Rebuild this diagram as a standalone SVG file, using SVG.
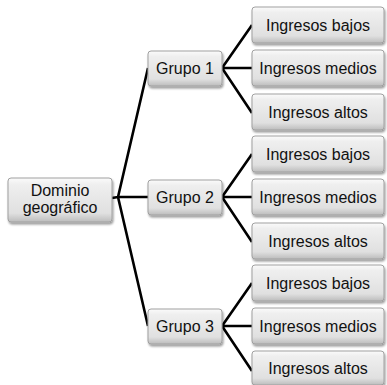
<svg xmlns="http://www.w3.org/2000/svg" width="387" height="385" viewBox="0 0 387 385">
<defs>
<linearGradient id="g" x1="0" y1="0" x2="0" y2="1">
<stop offset="0" stop-color="#fbfbfb"/>
<stop offset="0.15" stop-color="#efefef"/>
<stop offset="0.8" stop-color="#e0e0e0"/>
<stop offset="1" stop-color="#bcbcbc"/>
</linearGradient>
<filter id="sh" x="-10%" y="-10%" width="130%" height="140%">
<feGaussianBlur in="SourceAlpha" stdDeviation="1.2"/>
<feOffset dx="1" dy="2" result="b"/>
<feComponentTransfer><feFuncA type="linear" slope="0.4"/></feComponentTransfer>
<feMerge><feMergeNode/><feMergeNode in="SourceGraphic"/></feMerge>
</filter>
</defs>
<style>
.box{fill:url(#g);stroke:#a0a0a0;stroke-width:1;filter:url(#sh)}
.t{font-family:"Liberation Sans",Arial,sans-serif;font-size:16px;fill:#111111;text-anchor:middle;dominant-baseline:central}
.c{fill:none;stroke:#000;stroke-width:2.6;stroke-linejoin:round}
</style>
<rect width="387" height="385" fill="#ffffff"/>
<g id="connectors">
<path class="c" d="M112 198 L118 197 L148 68 M118 197 L148 197 M118 197 L148 326"/>
<path class="c" d="M252 25 L222 68 L252 68 M222 68 L252 113"/>
<path class="c" d="M252 154 L222 197 L252 197 M222 197 L252 242"/>
<path class="c" d="M252 283 L222 326 L252 326 M222 326 L252 371"/>
</g>
<g id="dominio">
<rect class="box" x="8" y="178" width="104" height="44" rx="3"/>
<text class="t" x="60" y="190">Dominio</text>
<text class="t" x="60" y="207">geográfico</text>
</g>
<g id="grupo1">
<rect class="box" x="148" y="51" width="74" height="35" rx="3"/>
<text class="t" x="185" y="68.5">Grupo 1</text>
</g>
<g id="grupo2">
<rect class="box" x="148" y="180" width="74" height="35" rx="3"/>
<text class="t" x="185" y="197.5">Grupo 2</text>
</g>
<g id="grupo3">
<rect class="box" x="148" y="309" width="74" height="35" rx="3"/>
<text class="t" x="185" y="326.5">Grupo 3</text>
</g>
<g id="g1bajos"><rect class="box" x="252" y="7" width="132" height="36" rx="3"/><text class="t" x="318" y="25">Ingresos bajos</text></g>
<g id="g1medios"><rect class="box" x="252" y="50" width="132" height="36" rx="3"/><text class="t" x="318" y="68">Ingresos medios</text></g>
<g id="g1altos"><rect class="box" x="252" y="94" width="132" height="36" rx="3"/><text class="t" x="318" y="112">Ingresos altos</text></g>
<g id="g2bajos"><rect class="box" x="252" y="136" width="132" height="36" rx="3"/><text class="t" x="318" y="154">Ingresos bajos</text></g>
<g id="g2medios"><rect class="box" x="252" y="179" width="132" height="36" rx="3"/><text class="t" x="318" y="197">Ingresos medios</text></g>
<g id="g2altos"><rect class="box" x="252" y="223" width="132" height="36" rx="3"/><text class="t" x="318" y="241">Ingresos altos</text></g>
<g id="g3bajos"><rect class="box" x="252" y="265" width="132" height="36" rx="3"/><text class="t" x="318" y="283">Ingresos bajos</text></g>
<g id="g3medios"><rect class="box" x="252" y="308" width="132" height="36" rx="3"/><text class="t" x="318" y="326">Ingresos medios</text></g>
<g id="g3altos"><rect class="box" x="252" y="351" width="132" height="34" rx="3"/><text class="t" x="318" y="368">Ingresos altos</text></g>
</svg>
